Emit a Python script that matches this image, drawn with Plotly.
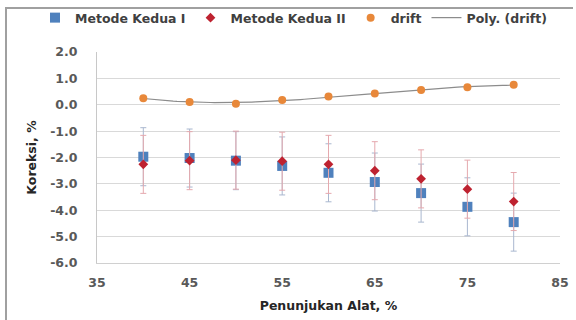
import numpy as np
import plotly.graph_objects as go

# Instrument reading (%)
penunjukan = [40, 45, 50, 55, 60, 65, 70, 75, 80]

# Corrections (%) for the two methods and the drift
metode_1 = [-1.97, -2.02, -2.12, -2.32, -2.58, -2.93, -3.35, -3.87, -4.45]
metode_2 = [-2.26, -2.12, -2.10, -2.14, -2.26, -2.50, -2.81, -3.20, -3.67]
drift = [0.25, 0.10, 0.04, 0.18, 0.31, 0.43, 0.56, 0.66, 0.76]

# Uncertainty (±) on each correction
err_1 = [1.1, 1.1, 1.1, 1.1, 1.1, 1.1, 1.1, 1.1, 1.1]
err_2 = [1.1, 1.1, 1.1, 1.1, 1.1, 1.1, 1.1, 1.1, 1.1]

y_ticks = [2.0, 1.0, 0.0, -1.0, -2.0, -3.0, -4.0, -5.0, -6.0]
x_ticks = [35, 45, 55, 65, 75, 85]

# Third-order polynomial trendline through the drift points
coef = np.polyfit(penunjukan, drift, 3)
x_fit = np.linspace(min(penunjukan), max(penunjukan), 100)
y_fit = np.polyval(coef, x_fit)

FONT = "DejaVu Sans"

fig = go.Figure()

# trendline first so it sits beneath the markers
fig.add_trace(go.Scatter(
    x=x_fit, y=y_fit, mode="lines", name="Poly. (drift)", legendrank=4,
    line=dict(color="#8C8C8C", width=1.2),
))
fig.add_trace(go.Scatter(
    x=penunjukan, y=metode_1, mode="markers", name="Metode Kedua I", legendrank=1,
    marker=dict(symbol="square", size=10, color="#4F81BD"),
    error_y=dict(type="data", array=err_1, color="#A9B7CF", thickness=1, width=3),
))
fig.add_trace(go.Scatter(
    x=penunjukan, y=metode_2, mode="markers", name="Metode Kedua II", legendrank=2,
    marker=dict(symbol="diamond", size=7.5, color="#BE2230"),
    error_y=dict(type="data", array=err_2, color="#E5A9AE", thickness=1, width=3),
))
fig.add_trace(go.Scatter(
    x=penunjukan, y=drift, mode="markers", name="drift", legendrank=3,
    marker=dict(symbol="circle", size=8, color="#E8883A"),
))

L, R, T, B = 97, 16, 52, 57
W, H = 576, 320
pw, ph = W - L - R, H - T - B


def px_x(p):
    return (p - L) / pw


def px_y(p):
    return (H - B - p) / ph


FRAME = "#A0A0A0"

fig.update_layout(
    width=W, height=H,
    margin=dict(l=L, r=R, t=T, b=B, autoexpand=False),
    paper_bgcolor="white", plot_bgcolor="white",
    font=dict(family=FONT, size=12, color="#595959"),
    showlegend=True,
    legend=dict(
        orientation="h", x=px_x(35), xanchor="left", y=px_y(18), yanchor="middle",
        font=dict(family=FONT, size=12.5, color="#404040", weight=700),
        itemwidth=30, bgcolor="rgba(0,0,0,0)",
    ),
    xaxis=dict(
        range=[35, 85], tickvals=x_ticks, ticktext=[str(v) for v in x_ticks],
        showgrid=False, zeroline=False, showline=True, linecolor="#D0D0D0", linewidth=1,
        ticks="", ticklabelstandoff=8,
        tickfont=dict(size=12.5, color="#595959", weight=700),
        title=dict(text="Penunjukan Alat, %", standoff=12,
                   font=dict(size=12.5, color="#262626", weight=700)),
    ),
    yaxis=dict(
        range=[-6, 2], tickvals=y_ticks, ticktext=[f"{v:.1f}" for v in y_ticks],
        showgrid=True, gridcolor="#D9D9D9", gridwidth=1, zeroline=False,
        showline=True, linecolor="#C8C8C8", linewidth=1,
        ticks="", ticklabelstandoff=16,
        tickfont=dict(size=12.5, color="#595959", weight=700),
        title=dict(text="Koreksi, %", standoff=10,
                   font=dict(size=12.5, color="#262626", weight=700)),
    ),
    shapes=[
        # chart frame: left and top edges as thin filled bands
        dict(type="rect", xref="paper", yref="paper", layer="above",
             x0=px_x(5), x1=px_x(7), y0=px_y(H + 5), y1=px_y(7),
             fillcolor=FRAME, line=dict(width=0)),
        dict(type="rect", xref="paper", yref="paper", layer="above",
             x0=px_x(5), x1=px_x(W - 3), y0=px_y(9), y1=px_y(7),
             fillcolor=FRAME, line=dict(width=0)),
    ],
)

fig.write_html("out.html")
